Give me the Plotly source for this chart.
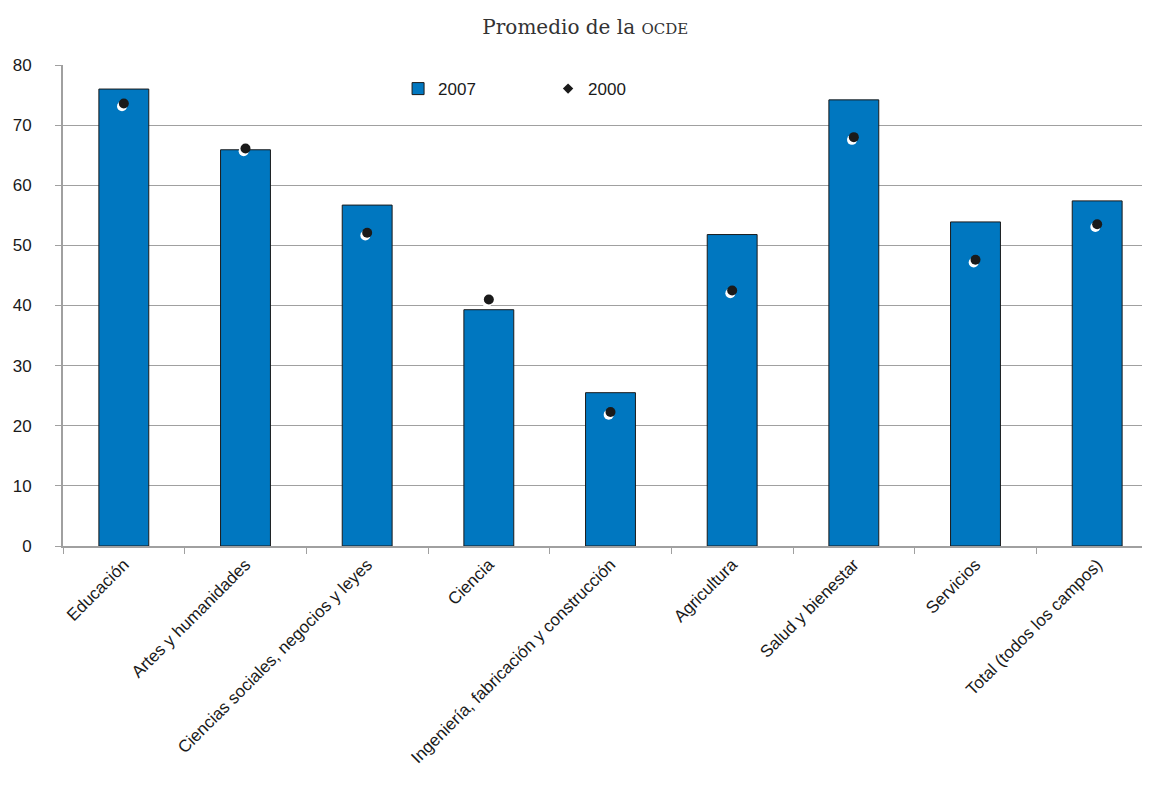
import plotly.graph_objects as go

categories = ["Educación", "Artes y humanidades", "Ciencias sociales, negocios y leyes",
              "Ciencia", "Ingeniería, fabricación y construcción", "Agricultura",
              "Salud y bienestar", "Servicios", "Total (todos los campos)"]
values_2007 = [76.0, 65.9, 56.7, 39.3, 25.5, 51.8, 74.2, 53.9, 57.4]
values_2000 = [73.6, 66.1, 52.1, 41.0, 22.3, 42.5, 68.0, 47.6, 53.5]

FONT = "Liberation Sans Narrow, Liberation Sans, Arial"
XR = [-0.5, 8.5]
YR = [0, 80]

fig = go.Figure()
fig.add_trace(go.Bar(
    x=categories, y=values_2007, name="2007", width=0.41,
    marker=dict(color="#0077C0", line=dict(color="#1a1a1a", width=1)),
))
# white highlight under the 2000 markers (drawn on a slightly shifted overlay axis)
fig.add_trace(go.Scatter(
    x=categories, y=values_2000, mode="markers", xaxis="x2", yaxis="y2",
    marker=dict(symbol="circle", size=10, color="white"),
    showlegend=False, hoverinfo="skip",
))
fig.add_trace(go.Scatter(
    x=categories, y=values_2000, name="2000", mode="markers", xaxis="x3", yaxis="y3",
    marker=dict(symbol="circle", size=10, color="#1a1a1a"),
    showlegend=False,
))
fig.add_trace(go.Scatter(
    x=[None], y=[None], name="2000", mode="markers",
    marker=dict(symbol="diamond", size=8, color="#1a1a1a"),
))

hidden = dict(visible=False, showgrid=False, zeroline=False)
fig.update_layout(
    width=1150, height=789,
    paper_bgcolor="white", plot_bgcolor="white",
    margin=dict(l=55, r=0, t=57, b=251),
    font=dict(family=FONT, size=17, color="#1a1a1a"),
    title=dict(
        text="Promedio de la <span style='font-size:15px'>OCDE</span>",
        x=0.502, xanchor="center", y=0.976, yanchor="middle",
        font=dict(family="DejaVu Serif, Liberation Serif, serif", size=20, color="#333333"),
    ),
    showlegend=True,
    legend=dict(orientation="h", x=0.306, y=0.95, xanchor="left", yanchor="middle",
                entrywidth=105, font=dict(family=FONT, size=17),
                bgcolor="rgba(0,0,0,0)"),
    xaxis2=dict(type="category", overlaying="x", range=[XR[0] + 0.015, XR[1] + 0.015], **hidden),
    yaxis2=dict(overlaying="y", range=[YR[0] + 0.45, YR[1] + 0.45], **hidden),
    xaxis3=dict(type="category", overlaying="x", range=XR, **hidden),
    yaxis3=dict(overlaying="y", range=YR, **hidden),
)
fig.update_xaxes(
    selector=dict(anchor="y"),
)
fig.layout.xaxis.update(
    type="category", range=XR, tickangle=-45,
    tickson="boundaries", ticks="outside", ticklen=6, tickcolor="#a0a0a0",
    showline=True, linecolor="#a0a0a0", linewidth=2, showgrid=False,
    tickfont=dict(family=FONT, size=17),
)
fig.layout.yaxis.update(
    range=YR, dtick=10, ticks="outside", ticklen=6, tickcolor="#a0a0a0",
    showline=True, linecolor="#a0a0a0", linewidth=2,
    showgrid=True, gridcolor="#a0a0a0", gridwidth=1,
    ticklabelstandoff=20, tickfont=dict(family=FONT, size=17), zeroline=False,
)

fig.write_html("out.html")
